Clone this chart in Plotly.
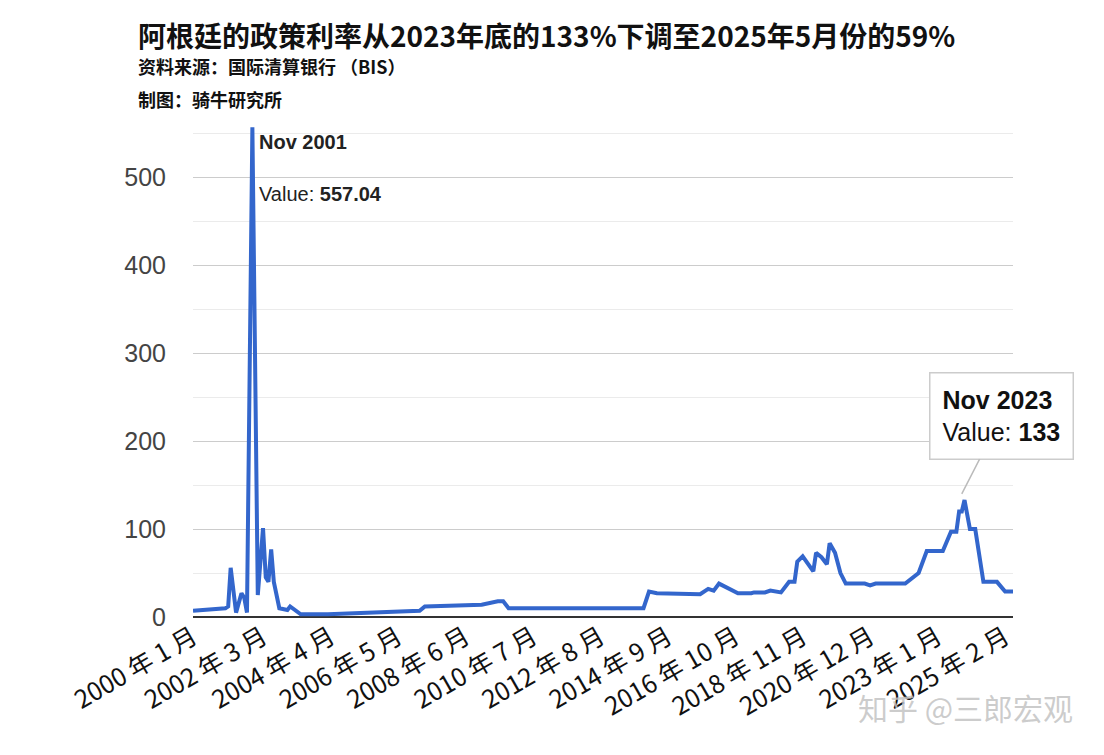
import plotly.graph_objects as go

# month offsets from Jan 2000 and policy rate (%)
months = [0, 5, 12, 13, 14, 16, 18, 19, 20, 22, 24, 26, 27, 28, 29, 30, 32, 35, 36, 40,
          50, 84, 86, 107, 113, 115, 117, 167, 169, 172, 188, 191, 193, 195, 198, 202,
          207, 208, 212, 214, 218, 221, 223, 224, 226, 228, 230, 231, 233, 235, 236,
          238, 240, 242, 249, 251, 253, 264, 269, 272, 278, 281, 283, 284, 285, 286,
          288, 290, 293, 298, 301, 304]
rates = [7, 8, 10, 12, 56, 5, 27, 22, 5, 557.04, 25, 101, 45, 40, 77, 40, 10, 8, 12, 3,
         3, 7, 12, 14, 18, 18, 10, 10, 29, 27, 26, 32, 30, 38, 33, 27,
         27, 28, 28, 30, 28, 40, 40, 63, 69, 60, 52, 73, 68, 60, 84,
         73, 50, 38, 38, 36, 38, 38, 50, 75, 75, 97, 97, 120, 120, 133,
         100, 100, 40, 40, 29, 29]

tick_months = [0, 26, 51, 76, 101, 126, 151, 176, 201, 226, 251, 276, 301]
tick_text = ["2000 年 1 月", "2002 年 3 月", "2004 年 4 月", "2006 年 5 月", "2008 年 6 月",
             "2010 年 7 月", "2012 年 8 月", "2014 年 9 月", "2016 年 10 月", "2018 年 11 月",
             "2020 年 12 月", "2023 年 1 月", "2025 年 2 月"]


def to_date(m):
    return f"{2000 + m // 12}-{m % 12 + 1:02d}-01"


dates = [to_date(m) for m in months]
tick_dates = [to_date(m) for m in tick_months]

fig = go.Figure()
fig.add_trace(go.Scatter(
    x=dates, y=rates, mode="lines",
    line=dict(color="#3366cc", width=4),
    hoverinfo="skip"
))

fig.add_annotation(
    x=to_date(22), y=557.04, xref="x", yref="y",
    text="<b>Nov 2001</b><br><br>Value: <b>557.04</b>",
    showarrow=False, xanchor="left", yanchor="top", xshift=5, yshift=-2,
    align="left", font=dict(family="Liberation Sans Narrow, Arial Narrow, sans-serif", size=20, color="#222")
)
fig.add_annotation(
    x=to_date(285), y=140, xref="x", yref="y",
    text="<b>Nov 2023</b><br>Value: <b>133</b>",
    showarrow=True, arrowhead=0, arrowcolor="#bbbbbb", arrowwidth=1.5,
    ax=40, ay=-78, align="left",
    bgcolor="white", bordercolor="#cccccc", borderwidth=1.5, borderpad=12,
    font=dict(family="Liberation Sans, Arial, sans-serif", size=25, color="#111")
)

fig.add_annotation(
    x=-0.07, y=1.222, xref="paper", yref="paper", xanchor="left", yanchor="top",
    text="<b>阿根廷的政策利率从2023年底的133%下调至2025年5月份的59%</b>",
    showarrow=False, font=dict(size=28, color="#111")
)
fig.add_annotation(
    x=-0.07, y=1.145, xref="paper", yref="paper", xanchor="left", yanchor="top",
    text="<b>资料来源：国际清算银行 （BIS）</b>",
    showarrow=False, font=dict(size=18, color="#111")
)
fig.add_annotation(
    x=-0.07, y=1.078, xref="paper", yref="paper", xanchor="left", yanchor="top",
    text="<b>制图：骑牛研究所</b>",
    showarrow=False, font=dict(size=18, color="#111")
)
fig.add_annotation(
    x=1.075, y=-0.23, xref="paper", yref="paper", xanchor="right", yanchor="bottom",
    text="知乎 @三郎宏观", showarrow=False,
    font=dict(size=30, color="rgba(195,195,195,0.85)")
)

fig.update_layout(
    width=1104, height=755,
    margin=dict(l=185, r=99, t=115, b=146),
    paper_bgcolor="white", plot_bgcolor="white",
    font=dict(family="Noto Sans CJK SC, sans-serif"),
    showlegend=False,
    xaxis=dict(
        range=[to_date(0), to_date(304)], automargin=False,
        tickvals=tick_dates, ticktext=tick_text, tickangle=-30,
        showgrid=False, ticks="", zeroline=False,
        tickfont=dict(size=25, color="#111"),
    ),
    yaxis=dict(
        range=[0, 562], tickvals=[0, 100, 200, 300, 400, 500], automargin=False,
        showgrid=True, gridcolor="#cccccc", gridwidth=1.2,
        minor=dict(tickvals=[50, 150, 250, 350, 450, 550], showgrid=True, gridcolor="#ebebeb"),
        zeroline=True, zerolinecolor="#333", zerolinewidth=2,
        tickfont=dict(family="Liberation Sans, Arial, sans-serif", size=25, color="#444"),
        ticklabelstandoff=26,
    ),
)

fig.write_html("out.html")
